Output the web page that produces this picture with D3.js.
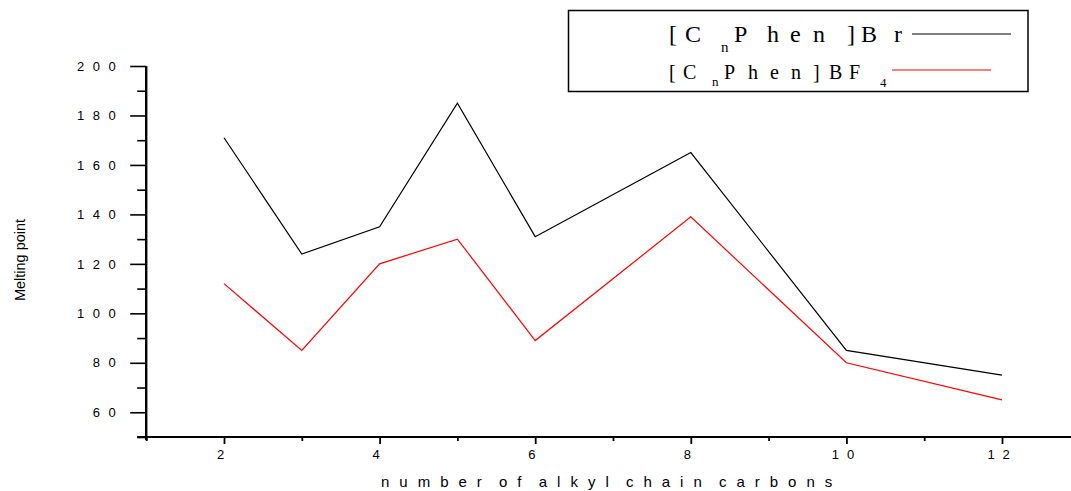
<!DOCTYPE html>
<html>
<head>
<meta charset="utf-8">
<script src="https://cdn.jsdelivr.net/npm/d3@7"></script>
<style>
  html, body { margin: 0; padding: 0; background: #fff; }
  svg { display: block; }
  .tick text { font-family: "Liberation Sans", Arial, sans-serif; }
</style>
</head>
<body>
<svg id="chart" width="1071" height="491"></svg>
<script>
// Melting points of [CnPhen]X salts against alkyl chain length
const carbons = [2, 3, 4, 5, 6, 8, 10, 12];
const meltBr  = [171, 124, 135, 185, 131, 165, 85, 75];
const meltBF4 = [112, 85, 120, 130, 89, 139, 80, 65];
const xMajorTicks = [2, 4, 6, 8, 10, 12];
const xMinorTicks = [1, 3, 5, 7, 9, 11, 13];
const yMajorTicks = [60, 80, 100, 120, 140, 160, 180, 200];
const yMinorTicks = [50, 70, 90, 110, 130, 150, 170, 190];
const xTitle = "number of alkyl chain carbons";
const yTitle = "Melting point";

const svg = d3.select("#chart");

const x = d3.scaleLinear().domain([1, 13]).range([146.2, 1079.8]);
const y = d3.scaleLinear().domain([50, 200]).range([437, 66]);

// Y axis: minor ticks, then labelled major ticks
const yMinor = svg.append("g").attr("transform", `translate(${x(1)},0)`)
  .call(d3.axisLeft(y).tickValues(yMinorTicks).tickSize(9).tickFormat(""));
const yMajor = svg.append("g").attr("transform", `translate(${x(1)},0)`)
  .call(d3.axisLeft(y).tickValues(yMajorTicks).tickSize(16).tickPadding(6).tickFormat(d3.format("d")));
[yMinor, yMajor].forEach(g => {
  g.select(".domain").remove();
  g.selectAll(".tick line").attr("stroke", "#000").attr("stroke-width", 1.6);
});
yMajor.attr("font-size", null);
yMajor.selectAll(".tick text")
  .style("font-size", "13px").attr("fill", "#000")
  .style("letter-spacing", "8.5px");

// X axis: minor ticks, then labelled major ticks
const xMinor = svg.append("g").attr("transform", `translate(0,${y(50)})`)
  .call(d3.axisBottom(x).tickValues(xMinorTicks).tickSize(4).tickFormat(""));
const xMajor = svg.append("g").attr("transform", `translate(0,${y(50)})`)
  .call(d3.axisBottom(x).tickValues(xMajorTicks).tickSize(7).tickPadding(6).tickFormat(d3.format("d")));
[xMinor, xMajor].forEach(g => {
  g.select(".domain").remove();
  g.selectAll(".tick line").attr("stroke", "#000").attr("stroke-width", 1.8);
});
xMajor.attr("font-size", null);
xMajor.selectAll(".tick text")
  .style("font-size", "13px").attr("fill", "#000")
  .style("letter-spacing", "7.8px");

// Axis lines
svg.append("line")
  .attr("x1", x(1)).attr("x2", x(1))
  .attr("y1", y(200)).attr("y2", y(50) + 3)
  .attr("stroke", "#000").attr("stroke-width", 2.4);
svg.append("line")
  .attr("x1", x(1) - 9).attr("x2", 1071)
  .attr("y1", y(50)).attr("y2", y(50))
  .attr("stroke", "#000").attr("stroke-width", 2);

// Series lines
const line = d3.line().x(d => x(d[0])).y(d => y(d[1]));
const seriesBr  = carbons.map((c, i) => [c, meltBr[i]]);
const seriesBF4 = carbons.map((c, i) => [c, meltBF4[i]]);

svg.append("path").datum(seriesBr)
  .attr("d", line).attr("fill", "none")
  .attr("stroke", "#000").attr("stroke-width", 1.2);
svg.append("path").datum(seriesBF4)
  .attr("d", line).attr("fill", "none")
  .attr("stroke", "#ff0000").attr("stroke-width", 1.2);

// Axis titles
svg.append("text")
  .attr("x", 381).attr("y", 487)
  .attr("font-family", "Liberation Sans, Arial, sans-serif")
  .attr("font-size", 15).attr("fill", "#000")
  .style("letter-spacing", "10px")
  .style("word-spacing", "-7px")
  .text(xTitle);
svg.append("text")
  .attr("transform", "translate(25,260) rotate(-90)")
  .attr("text-anchor", "middle")
  .attr("font-family", "Liberation Sans, Arial, sans-serif")
  .attr("font-size", 14.5).attr("fill", "#000")
  .text(yTitle);

// Legend
const lg = svg.append("g").attr("transform", "translate(568.5,10.5)");
lg.append("rect")
  .attr("width", 459.5).attr("height", 81)
  .attr("fill", "#fff").attr("stroke", "#000").attr("stroke-width", 1.5);

const serif = "Liberation Serif, Times New Roman, serif";
function legendLabel(glyphs) {
  // glyphs: [char, offset from box left, size, baseline]
  glyphs.forEach(([ch, gx, size, base]) => {
    lg.append("text")
      .attr("x", gx).attr("y", base)
      .attr("font-family", serif).attr("font-size", size).attr("fill", "#000")
      .text(ch);
  });
}
legendLabel([
  ["[", 100.5, 24, 31], ["C", 116.5, 24, 31], ["n", 152.5, 15, 41],
  ["P", 165.5, 24, 31], ["h", 198.5, 24, 31], ["e", 221.5, 24, 31],
  ["n", 244.5, 24, 31], ["]", 278.5, 24, 31], ["B", 292.5, 24, 31],
  ["r", 325.5, 24, 31]
]);
legendLabel([
  ["[", 100.5, 20, 68.5], ["C", 114.5, 20, 68.5], ["n", 143.5, 13, 75],
  ["P", 155.5, 20, 68.5], ["h", 179.5, 20, 68.5], ["e", 201.5, 20, 68.5],
  ["n", 222.5, 20, 68.5], ["]", 244.5, 20, 68.5], ["B", 260.5, 20, 68.5],
  ["F", 280.5, 20, 68.5], ["4", 311.5, 13, 76]
]);
lg.append("line").attr("x1", 343.5).attr("x2", 442.5).attr("y1", 23.5).attr("y2", 23.5)
  .attr("stroke", "#000").attr("stroke-width", 1.2);
lg.append("line").attr("x1", 323.5).attr("x2", 422.5).attr("y1", 59.5).attr("y2", 59.5)
  .attr("stroke", "#ff0000").attr("stroke-width", 1.2);
</script>
</body>
</html>
